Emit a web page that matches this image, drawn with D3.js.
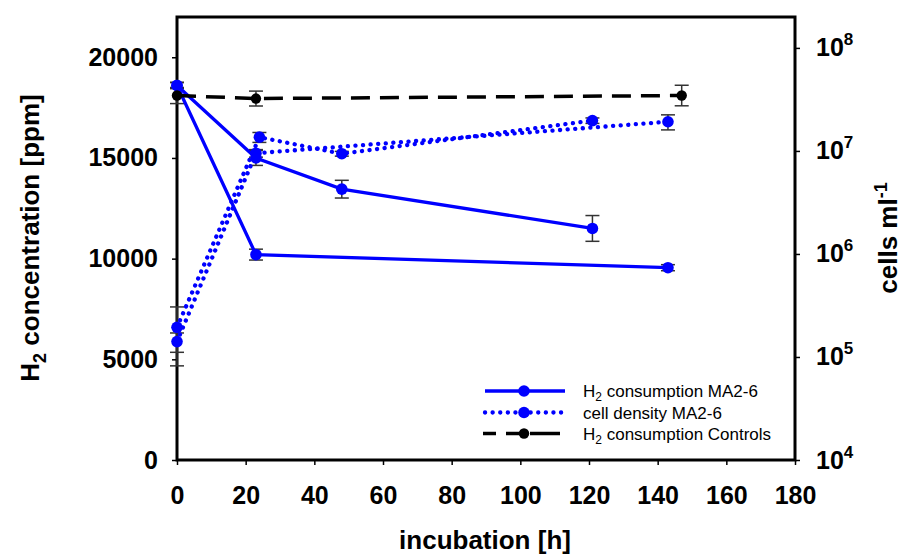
<!DOCTYPE html>
<html>
<head>
<meta charset="utf-8">
<script src="https://cdn.jsdelivr.net/npm/d3@7"></script>
<style>
  html, body { margin: 0; padding: 0; background: #fff; }
  svg { display: block; font-family: "Liberation Sans", Arial, sans-serif; }
</style>
</head>
<body>
<svg id="chart" width="907" height="554"></svg>
<script>
// ---------------- data ----------------
const xTicks = [0, 20, 40, 60, 80, 100, 120, 140, 160, 180];
const yLeftTicks = [0, 5000, 10000, 15000, 20000];
const yRightTicks = [1e4, 1e5, 1e6, 1e7, 1e8];

// H2 consumption MA2-6 (two replicate incubations)
const h2HoursA = [0, 23, 48, 121];
const h2ValuesA = [18600, 15000, 13450, 11500];
const h2ErrA = [150, 370, 440, 640];
const h2HoursB = [0, 23, 143];
const h2ValuesB = [18600, 10200, 9550];
const h2ErrB = [150, 270, 150];

// cell density MA2-6 (cells per ml)
const cellHoursA = [0, 24, 48, 121];
const cellValuesA = [1.94e5, 1.36e7, 9.4e6, 1.97e7];
const cellErrA = [1.12e5, 1.5e6, 5e5, 1.2e6];
const cellHoursB = [0, 23, 143];
const cellValuesB = [1.41e5, 9.5e6, 1.92e7];
const cellErrB = [3e4, 8e5, 3.2e6];

// H2 consumption Controls
const ctrlHours = [0, 23, 147];
const ctrlValues = [18100, 17950, 18100];
const ctrlErr = [400, 370, 510];

const legendLabels = ["consumption MA2-6", "cell density MA2-6", "consumption Controls"];

// ---------------- layout ----------------
const svg = d3.select("#chart");
const L = 177, R = 795, T = 17, B = 460;
const BLUE = "#0000ff";

const x = d3.scaleLinear().domain([0, 180]).range([L, R]);
const yL = d3.scaleLinear().domain([0, 22000]).range([B, T]);
const yR = d3.scaleLog().domain([1e4, Math.pow(10, 8.3)]).range([B, T]);

const zip = (xs, ys, es) => xs.map((h, i) => ({ h, v: ys[i], e: es[i] }));

// axes
const fontTick = 25;
const gx = svg.append("g").attr("transform", `translate(0,${B})`)
  .call(d3.axisBottom(x).tickValues(xTicks).tickSize(5).tickPadding(21).tickFormat(d3.format("d")));
const gyl = svg.append("g").attr("transform", `translate(${L},0)`)
  .call(d3.axisLeft(yL).tickValues(yLeftTicks).tickSize(5).tickPadding(14).tickFormat(d3.format("d")));
const gyr = svg.append("g").attr("transform", `translate(${R},0)`)
  .call(d3.axisRight(yR).tickValues(yRightTicks).tickSize(5).tickPadding(16).tickFormat(() => ""));

[gx, gyl, gyr].forEach(g => {
  g.select(".domain").remove();
  g.selectAll(".tick line").attr("stroke", "#000").attr("stroke-width", 1.5);
  g.selectAll(".tick text").attr("font-size", fontTick).attr("font-weight", "bold").attr("fill", "#000")
    .attr("font-family", "'Liberation Sans', Arial, sans-serif");
});
gyr.selectAll(".tick text").each(function(d) {
  const t = d3.select(this);
  t.append("tspan").text("10");
  t.append("tspan").attr("dy", -11).attr("font-size", 17).text(Math.round(Math.log10(d)));
});

// frame
svg.append("rect").attr("x", L).attr("y", T).attr("width", R - L).attr("height", B - T)
  .attr("fill", "none").attr("stroke", "#000").attr("stroke-width", 3);

// axis titles
svg.append("text").attr("x", 485).attr("y", 549).attr("text-anchor", "middle")
  .attr("font-size", 26).attr("font-weight", "bold").text("incubation [h]");

const lt = svg.append("text").attr("transform", "translate(39,238) rotate(-90)")
  .attr("text-anchor", "middle").attr("font-size", 26).attr("font-weight", "bold");
lt.append("tspan").text("H");
lt.append("tspan").attr("dy", 7).attr("font-size", 18).text("2");
lt.append("tspan").attr("dy", -7).text(" concentration [ppm]");

const rt = svg.append("text").attr("transform", "translate(897,238) rotate(-90)")
  .attr("text-anchor", "middle").attr("font-size", 26).attr("font-weight", "bold");
rt.append("tspan").text("cells ml");
rt.append("tspan").attr("dy", -10).attr("font-size", 18).text("-1");

// ---------------- marks ----------------
const plot = svg.append("g");

function errorBars(data, y) {
  const g = plot.append("g").attr("stroke", "#333").attr("stroke-width", 1.5).attr("fill", "none");
  data.forEach(d => {
    const y1 = y(d.v + d.e), y2 = y(Math.max(d.v - d.e, y.domain()[0]));
    const cx = x(d.h);
    g.append("line").attr("x1", cx).attr("x2", cx).attr("y1", y1).attr("y2", y2);
    g.append("line").attr("x1", cx - 7).attr("x2", cx + 7).attr("y1", y1).attr("y2", y1);
    g.append("line").attr("x1", cx - 7).attr("x2", cx + 7).attr("y1", y2).attr("y2", y2);
  });
}

function series(data, y, color, dash, width) {
  const line = d3.line().x(d => x(d.h)).y(d => y(d.v));
  const p = plot.append("path").datum(data).attr("d", line).attr("fill", "none")
    .attr("stroke", color).attr("stroke-width", width);
  if (dash === "dot") p.attr("stroke-dasharray", "0.1 7.5").attr("stroke-linecap", "round");
  else if (dash === "dash") p.attr("stroke-dasharray", "19 10");
}

const sets = [
  { d: zip(h2HoursA, h2ValuesA, h2ErrA), y: yL, c: BLUE, dash: "solid", w: 3.3, r: 5.8 },
  { d: zip(h2HoursB, h2ValuesB, h2ErrB), y: yL, c: BLUE, dash: "solid", w: 3.3, r: 5.8 },
  { d: zip(cellHoursA, cellValuesA, cellErrA), y: yR, c: BLUE, dash: "dot", w: 4.3, r: 5.8 },
  { d: zip(cellHoursB, cellValuesB, cellErrB), y: yR, c: BLUE, dash: "dot", w: 4.3, r: 5.8 },
  { d: zip(ctrlHours, ctrlValues, ctrlErr), y: yL, c: "#000", dash: "dash", w: 3.5, r: 5.2 }
];

sets.forEach(s => errorBars(s.d, s.y));
sets.forEach(s => series(s.d, s.y, s.c, s.dash, s.w));
sets.forEach(s => {
  plot.append("g").selectAll("circle").data(s.d).join("circle")
    .attr("cx", d => x(d.h)).attr("cy", d => s.y(d.v)).attr("r", s.r).attr("fill", s.c);
});

// ---------------- legend ----------------
const leg = svg.append("g");
const legItems = [
  { y: 391, c: BLUE, dash: null, w: 3.3, r: 5.8, sub: true, label: legendLabels[0] },
  { y: 412.5, c: BLUE, dash: "0.1 7.5", w: 4.3, r: 5.8, sub: false, label: legendLabels[1] },
  { y: 433.5, c: "#000", dash: "dash3", w: 3.5, r: 5.2, sub: true, label: legendLabels[2] }
];
legItems.forEach(it => {
  if (it.dash === "dash3") {
    [[483, 496], [506, 520], [530, 560]].forEach(seg => {
      leg.append("line").attr("x1", seg[0]).attr("x2", seg[1]).attr("y1", it.y).attr("y2", it.y)
        .attr("stroke", it.c).attr("stroke-width", it.w);
    });
  } else {
    const ln = leg.append("line").attr("x1", 485).attr("x2", 565).attr("y1", it.y).attr("y2", it.y)
      .attr("stroke", it.c).attr("stroke-width", it.w);
    if (it.dash) ln.attr("stroke-dasharray", it.dash).attr("stroke-linecap", "round");
  }
  leg.append("circle").attr("cx", 524).attr("cy", it.y).attr("r", it.r).attr("fill", it.c);
  const t = leg.append("text").attr("x", 583).attr("y", it.y + 6).attr("font-size", 17).attr("fill", "#000");
  if (it.sub) {
    t.append("tspan").text("H");
    t.append("tspan").attr("dy", 4).attr("font-size", 12).text("2");
    t.append("tspan").attr("dy", -4).text(" " + it.label);
  } else {
    t.text(it.label);
  }
});
</script>
</body>
</html>
